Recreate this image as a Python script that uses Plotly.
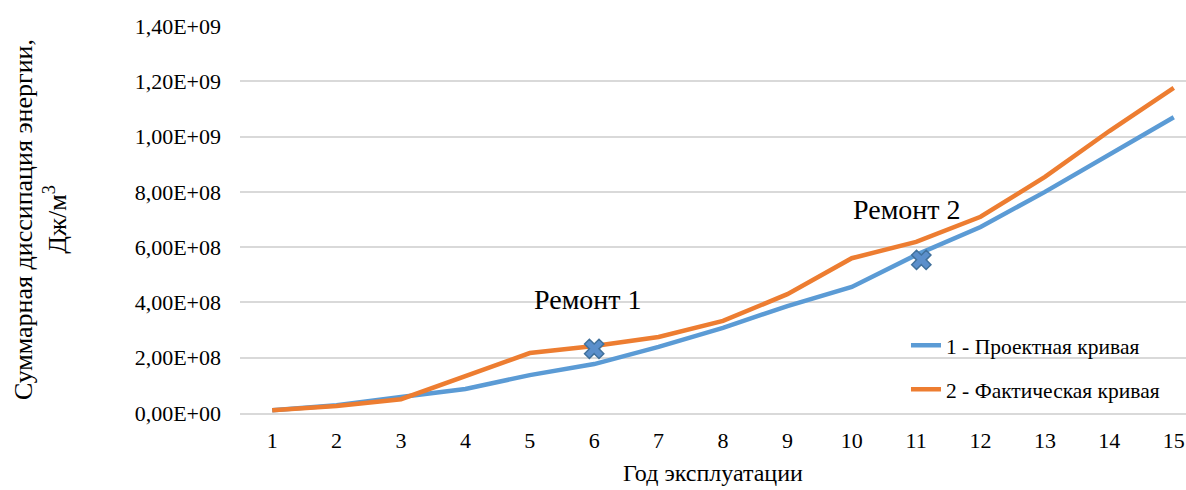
import plotly.graph_objects as go

years = list(range(1, 16))
project = [1.0e7, 2.8e7, 5.8e7, 8.7e7, 1.37e8, 1.77e8, 2.39e8, 3.08e8, 3.87e8, 4.56e8,
           5.72e8, 6.73e8, 8.0e8, 9.33e8, 1.07e9]
actual = [1.0e7, 2.5e7, 5.0e7, 1.34e8, 2.17e8, 2.42e8, 2.75e8, 3.33e8, 4.3e8, 5.6e8,
          6.19e8, 7.1e8, 8.54e8, 1.02e9, 1.176e9]
repair_x = [6, 11.08]
repair_y = [2.32e8, 5.54e8]
repair_labels = ["Ремонт 1", "Ремонт 2"]
label_pos = [(5.9, 4.1e8), (10.85, 7.35e8)]
ytick_vals = [0, 2e8, 4e8, 6e8, 8e8, 1.0e9, 1.2e9, 1.4e9]
ytick_text = ["0,00E+00", "2,00E+08", "4,00E+08", "6,00E+08", "8,00E+08",
              "1,00E+09", "1,20E+09", "1,40E+09"]

FONT = "Liberation Serif"

fig = go.Figure()
fig.add_trace(go.Scatter(x=years, y=project, mode="lines", name="1 - Проектная кривая",
                         legendgroup="a",
                         line=dict(color="#5b9bd5", width=4.5)))
fig.add_trace(go.Scatter(x=years, y=actual, mode="lines", name="2 - Фактическая кривая",
                         legendgroup="b",
                         line=dict(color="#ed7d31", width=4.5)))
fig.add_trace(go.Scatter(x=repair_x, y=repair_y, mode="markers", showlegend=False,
                         marker=dict(symbol="x", size=17, color="#5b8fcb",
                                     line=dict(color="#41719c", width=1.5))))

for (lx, ly), t in zip(label_pos, repair_labels):
    fig.add_annotation(x=lx, y=ly, text=t, showarrow=False,
                       font=dict(family=FONT, size=28, color="#000000"))

fig.update_layout(
    width=1186, height=490,
    margin=dict(l=240, r=0, t=26, b=77),
    plot_bgcolor="white", paper_bgcolor="white",
    font=dict(family=FONT, size=22, color="#000000"),
    legend=dict(x=0.704, y=0.228, xanchor="left", yanchor="top",
                bgcolor="rgba(0,0,0,0)", font=dict(family=FONT, size=21.5),
                tracegroupgap=13),
    showlegend=True,
)
fig.update_xaxes(range=[0.5, 15.19], tickvals=years, ticktext=[str(y) for y in years],
                 showgrid=False, showline=True, linecolor="#d9d9d9", linewidth=2,
                 ticks="", tickfont=dict(family=FONT, size=22), ticklabelstandoff=7,
                 title=dict(text="Год эксплуатации", font=dict(family=FONT, size=24), standoff=12),
                 zeroline=False)
fig.update_yaxes(range=[0, 1.4e9], tickvals=ytick_vals, ticktext=ytick_text,
                 showgrid=True, gridcolor="#d9d9d9", gridwidth=1.5, zeroline=False,
                 ticks="", tickfont=dict(family=FONT, size=22), ticklabelstandoff=18,
                 title=dict(text="Суммарная диссипация энергии,<br>Дж/м<sup>3</sup>",
                            font=dict(family=FONT, size=26), standoff=60))

fig.write_html("out.html", config={"displayModeBar": False},
               post_script="document.body.style.margin='0';document.body.style.overflow='hidden';")
